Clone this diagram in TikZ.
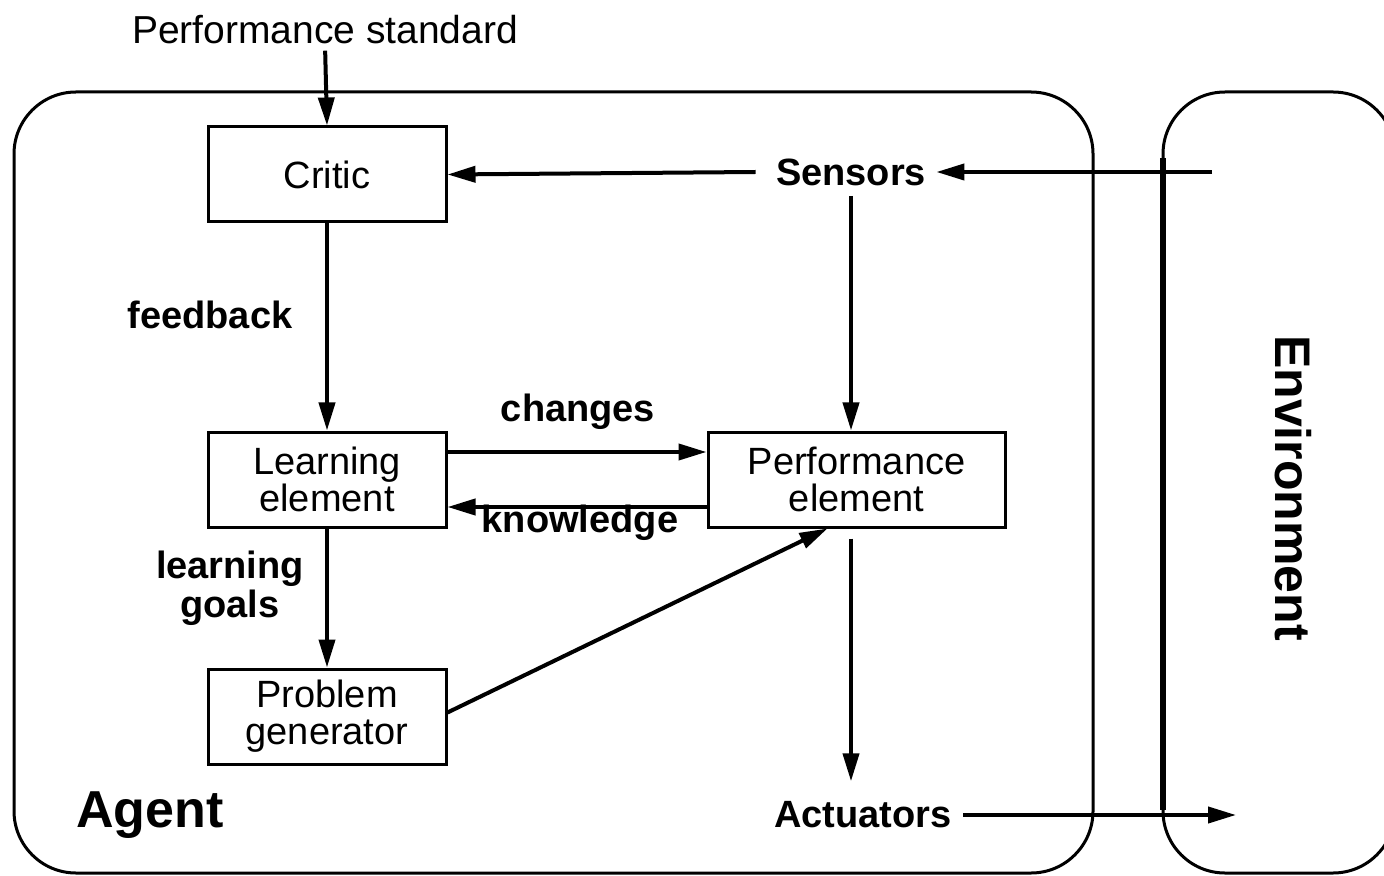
\documentclass[tikz,border=0pt]{standalone}
\usepackage{fontspec}
\setmainfont{Liberation Sans}
\usetikzlibrary{arrows.meta}
\begin{document}
\begin{tikzpicture}[x=0.5pt,y=-0.5pt,
  box/.style={draw, line width=1.5pt, minimum width=119pt, minimum height=47.5pt, inner sep=0pt, align=center, font=\fontsize{19}{18.5}\selectfont},
  lbl/.style={font=\bfseries\fontsize{19}{19.5}\selectfont, inner sep=0pt, align=center},
  conn/.style={line width=2pt, -{Triangle[length=14pt,width=8pt]}},
  frame/.style={line width=1.5pt, rounded corners=31pt}]
\useasboundingbox (0,0) rectangle (1384,876);
% frames
\draw[frame] (14,92) rectangle (1093,873);
\draw[frame] (1163,92) rectangle (1395,873);
\draw[line width=3pt] (1163,158) -- (1163,810);
% nodes
\node[font=\fontsize{19.5}{22}\selectfont, inner sep=0pt] (ps) at (325,30) {Performance standard};
\node[box] (critic) at (327,174.5) {Critic};
\node[box] (learn) at (327,479.5) {Learning\\element};
\node[box] (prob) at (327,716.5) {Problem\\generator};
\node[box, minimum width=148.5pt] (perf) at (856.5,479.5) {Performance\\element};
\node[lbl] (sens) at (851,172) {Sensors};
\node[lbl] (act) at (863,815) {Actuators};
\node[lbl] (fb) at (210,315) {feedback};
\node[lbl] (ch) at (578,412) {changes};
\node[lbl] (kn) at (580,523) {knowledge};
\node[lbl] (lg) at (230,588) {learning\\goals};
\node[font=\bfseries\fontsize{26}{28}\selectfont, inner sep=0pt] (agent) at (150,815) {Agent};
\node[font=\bfseries\fontsize{25}{28}\selectfont, inner sep=0pt, rotate=-90] (env) at (1293,488) {Environment};
\coordinate (envin) at (1212,172);
\coordinate (envout) at (1236,815);
% connectors
\draw[conn, shorten <=3pt] (ps.south) -- (critic.north);
\draw[conn] ([xshift=-10pt]sens.west) -- (critic.east);
\draw[conn] (envin) -- ([xshift=5pt]sens.east);
\draw[conn, shorten <=5pt] (sens.south) -- (sens.south |- perf.north);
\draw[conn] (critic.south) -- (learn.north);
\draw[conn] ([yshift=13.75pt]learn.east) -- ([yshift=13.75pt]perf.west);
\draw[conn] ([yshift=-13.75pt]perf.west) -- ([yshift=-13.75pt]learn.east);
\draw[conn] (learn.south) -- (prob.north);
\draw[conn] ([yshift=2pt]prob.east) -- ([xshift=-14.5pt]perf.south);
\draw[conn, shorten <=5pt, shorten >=10pt] (perf.south -| sens.south) -- (act.north -| sens.south);
\draw[conn] ([xshift=5.5pt]act.east) -- (envout);
\end{tikzpicture}
\end{document}
